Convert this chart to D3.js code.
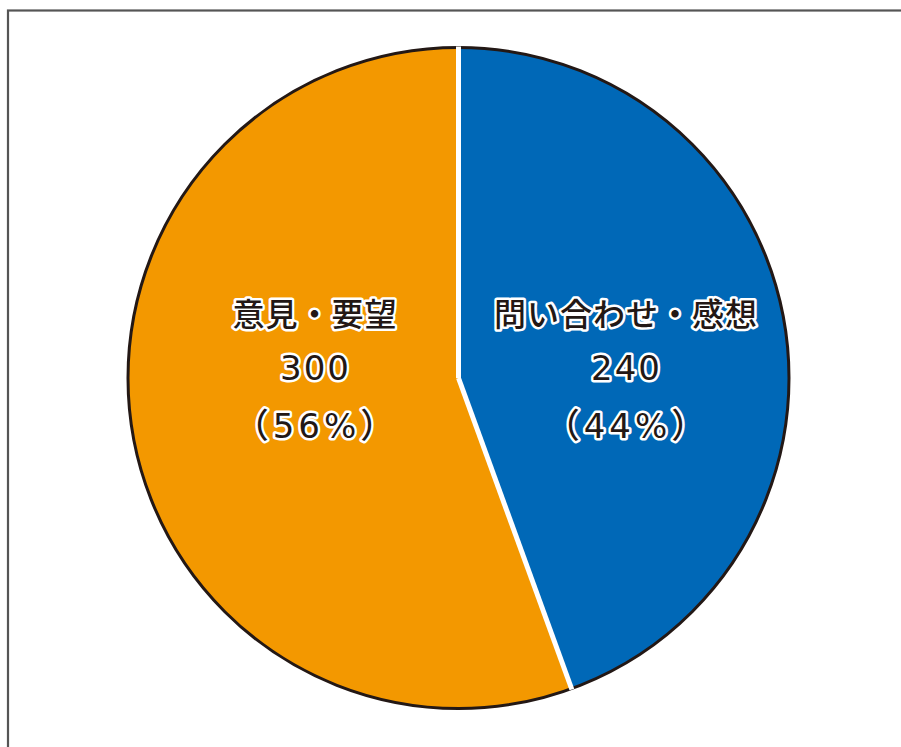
<!DOCTYPE html>
<html>
<head>
<meta charset="utf-8">
<script src="https://cdn.jsdelivr.net/npm/d3@7"></script>
<style>
  html, body { margin: 0; padding: 0; background: #fff; }
  svg { display: block; }
</style>
</head>
<body>
<svg id="chart" width="901" height="747"></svg>
<script>
// slices, clockwise from 12 o'clock
const categories = ["問い合わせ・感想", "意見・要望"];
const counts = [240, 300];
const percents = ["（44%）", "（56%）"];

const colors = d3.scaleOrdinal()
  .domain(categories)
  .range(["#0068b7", "#f39800"]);

const svg = d3.select("#chart");

// frame, runs off the right and bottom edge
svg.append("rect")
  .attr("x", 8)
  .attr("y", 10.5)
  .attr("width", 1000)
  .attr("height", 1000)
  .attr("fill", "none")
  .attr("stroke", "#555")
  .attr("stroke-width", 2.2);

const cx = 458.5, cy = 378, radius = 330.5;

const g = svg.append("g").attr("transform", `translate(${cx},${cy})`);

const data = categories.map((c, i) => ({ name: c, value: counts[i], pct: percents[i] }));

const pie = d3.pie()
  .value(d => d.value)
  .sort(null);

const arc = d3.arc().innerRadius(0).outerRadius(radius);

const arcs = pie(data);

g.selectAll("path.slice")
  .data(arcs)
  .enter()
  .append("path")
  .attr("class", "slice")
  .attr("d", arc)
  .attr("fill", d => colors(d.data.name));

// outline
g.append("circle")
  .attr("r", radius)
  .attr("fill", "none")
  .attr("stroke", "#231815")
  .attr("stroke-width", 3);

// white separators along slice boundaries
g.selectAll("line.sep")
  .data(arcs)
  .enter()
  .append("line")
  .attr("class", "sep")
  .attr("x1", 0).attr("y1", 0)
  .attr("x2", d => Math.sin(d.startAngle) * (radius + 1))
  .attr("y2", d => -Math.cos(d.startAngle) * (radius + 1))
  .attr("stroke", "#fff")
  .attr("stroke-width", 5);

// labels
const labelPos = [[167, -52], [-144, -52]];
const lineOffsets = [0, 54, 112];

const labels = g.selectAll("g.label")
  .data(arcs)
  .enter()
  .append("g")
  .attr("class", "label")
  .attr("transform", (d, i) => `translate(${labelPos[i][0]},${labelPos[i][1]})`);

function addLine(sel, y, text, size, family, weight, spacing) {
  [true, false].forEach(halo => {
    sel.append("text")
      .attr("x", spacing / 2)
      .attr("y", y)
      .attr("text-anchor", "middle")
      .attr("font-family", family)
      .attr("font-size", size)
      .attr("font-weight", weight)
      .attr("letter-spacing", spacing)
      .attr("fill", "#231815")
      .attr("stroke", halo ? "#fff" : "none")
      .attr("stroke-width", halo ? 5 : 0)
      .attr("stroke-linejoin", "round")
      .text(text);
  });
}

labels.each(function(d) {
  const sel = d3.select(this);
  addLine(sel, 0, d.data.name, 32, "'Noto Sans CJK JP', sans-serif", 500, 1);
  addLine(sel, lineOffsets[1], d.data.value, 34, "'DejaVu Sans', 'Noto Sans CJK JP', sans-serif", 500, 2);
  addLine(sel, lineOffsets[2], d.data.pct, 34, "'DejaVu Sans', 'Noto Sans CJK JP', sans-serif", 500, 4);
});
</script>
</body>
</html>
